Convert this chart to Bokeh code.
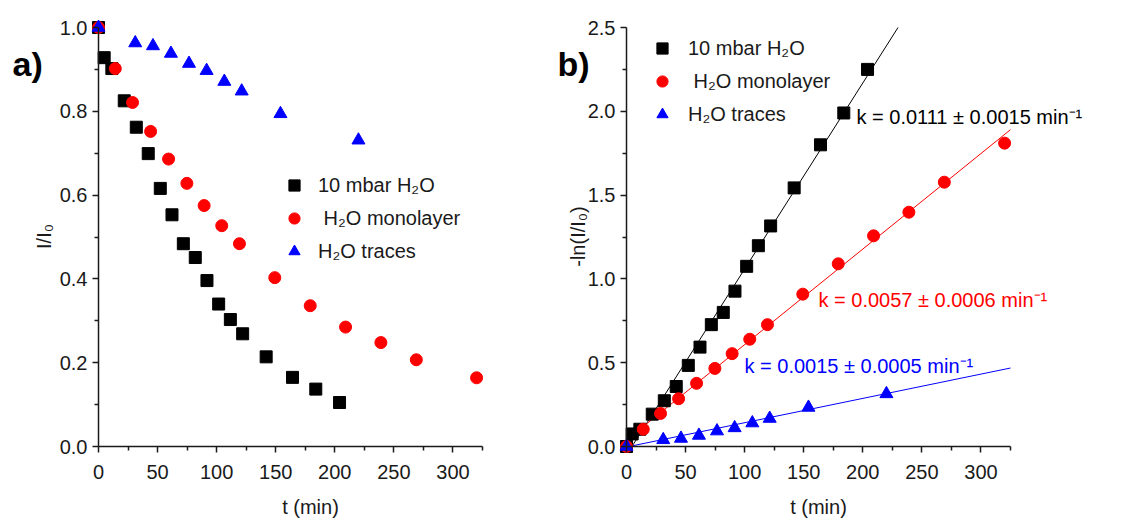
import math
from bokeh.plotting import figure
from bokeh.layouts import row
from bokeh.models import (Range1d, FixedTicker, NumeralTickFormatter, Legend,
                          LegendItem, Label)
from bokeh.core.properties import value
from bokeh.embed import file_html
from bokeh.resources import INLINE

# ---------------- data ----------------
# panel a) : normalised intensity I/I0 versus time (min)
t_10mbar = [0, 4.8, 11.3, 21.8, 32, 42.1, 52.3, 62.2, 71.8, 81.9, 91.8,
            101.7, 111.6, 122, 141.9, 164.2, 183.9, 204]
i_10mbar = [1.0, 0.928, 0.902, 0.825, 0.762, 0.699, 0.616, 0.553, 0.484,
            0.451, 0.396, 0.340, 0.303, 0.269, 0.214, 0.165, 0.137, 0.105]
t_mono = [0, 14.2, 28.8, 44.1, 59.3, 74.8, 89.4, 104.3, 119.3, 149.2,
          179.2, 209.1, 239, 269, 320]
i_mono = [1.0, 0.902, 0.821, 0.752, 0.686, 0.628, 0.575, 0.527, 0.484,
          0.403, 0.336, 0.285, 0.248, 0.207, 0.164]
t_traces = [0, 31.1, 46.1, 61.3, 76.6, 91.5, 106.5, 121.2, 154, 220]
i_traces = [1.0, 0.963, 0.956, 0.938, 0.914, 0.897, 0.871, 0.848, 0.794, 0.731]

# panel b) : -ln(I/I0) versus time (min)
ln_10mbar = [0, 0.075, 0.103, 0.193, 0.273, 0.358, 0.484, 0.593, 0.727,
             0.80, 0.927, 1.075, 1.198, 1.316, 1.543, 1.80, 1.99, 2.25]
ln_mono = [0, 0.103, 0.197, 0.285, 0.377, 0.466, 0.554, 0.640, 0.727,
           0.909, 1.090, 1.257, 1.398, 1.577, 1.810]
ln_traces = [0, 0.040, 0.048, 0.066, 0.092, 0.111, 0.140, 0.167, 0.233, 0.314]

# linear fits (slope, intercept) of panel b)
fit_slope = [0.0111, 0.0057, 0.00145]
fit_intercept = [-0.051, 0.038, -0.003]
k_labels = ["k = 0.0111 \u00b1 0.0015 min\u207b\u00b9",
            "k = 0.0057 \u00b1 0.0006 min\u207b\u00b9",
            "k = 0.0015 \u00b1 0.0005 min\u207b\u00b9"]

series_names = ["10 mbar H\u2082O", " H\u2082O monolayer", "H\u2082O traces"]
x_ticks = [0, 50, 100, 150, 200, 250, 300]
x_minor = [25, 75, 125, 175, 225, 275, 325]
ya_ticks = [0.0, 0.2, 0.4, 0.6, 0.8, 1.0]
ya_minor = [0.1, 0.3, 0.5, 0.7, 0.9]
yb_ticks = [0.0, 0.5, 1.0, 1.5, 2.0, 2.5]
yb_minor = [0.25, 0.75, 1.25, 1.75, 2.25]
X_MAX = 325

# ---------------- layout (page pixels) ----------------
FONT = "Liberation Sans"
AX = "#1a1a1a"
COLORS = ["#000000", "#ff0000", "#0000ff"]
MARKERS = ["square", "circle", "triangle"]
SIZES = [12, 12, 13]
H = 519
FRAME_TOP, FRAME_BOTTOM = 27, 446
SPLIT = 558


class Panel:
    """maps page pixels to data coordinates for one panel"""

    def __init__(self, fig_left, fig_right, axis_left, axis_right, y_max):
        self.fl, self.fr = fig_left, fig_right
        self.al, self.ar = axis_left, axis_right
        self.y_max = y_max
        self.kx = (axis_right - axis_left) / X_MAX
        self.ky = (FRAME_BOTTOM - FRAME_TOP) / y_max

    def x(self, px):
        return (px - self.al) / self.kx

    def y(self, py):
        return (FRAME_BOTTOM - py) / self.ky

    def fig(self, ticks_y, minor_y):
        p = figure(width=self.fr - self.fl, height=H,
                   x_range=Range1d(self.x(self.fl), self.x(self.fr)),
                   y_range=Range1d(self.y(H), self.y(0)),
                   output_backend="svg", toolbar_location=None,
                   min_border=0, min_border_left=0, min_border_right=0,
                   min_border_top=0, min_border_bottom=0)
        p.outline_line_color = None
        p.xgrid.grid_line_color = None
        p.ygrid.grid_line_color = None
        p.xaxis.fixed_location = 0
        p.yaxis.fixed_location = 0
        p.xaxis.bounds = (0, X_MAX)
        p.yaxis.bounds = (0, self.y_max)
        p.xaxis.ticker = FixedTicker(ticks=x_ticks, minor_ticks=x_minor)
        p.yaxis.ticker = FixedTicker(ticks=ticks_y, minor_ticks=minor_y)
        p.yaxis.formatter = NumeralTickFormatter(format="0.0")
        for ax in (p.xaxis[0], p.yaxis[0]):
            ax.axis_line_color = AX
            ax.axis_line_width = 1.5
            ax.major_tick_line_color = AX
            ax.major_tick_line_width = 1.5
            ax.minor_tick_line_color = AX
            ax.minor_tick_line_width = 1.5
            ax.major_tick_out = 6
            ax.major_tick_in = 0
            ax.minor_tick_out = 4
            ax.minor_tick_in = 0
            ax.major_label_text_font = FONT
            ax.major_label_text_font_size = "20px"
            ax.major_label_text_color = AX
        p.xaxis.major_label_standoff = 12
        p.yaxis.major_label_standoff = 5
        return p

    def text(self, p, px, py, txt, color=AX, size="20px", align="left",
             baseline="middle", bold=False, angle=0.0):
        p.add_layout(Label(x=self.x(px), y=self.y(py), text=txt,
                           text_align=align, text_baseline=baseline,
                           text_font=FONT, text_font_size=size,
                           text_font_style="bold" if bold else "normal",
                           text_color=color, angle=angle))


def add_series(p, xs_list, ys_list):
    rs = []
    for xs, ys, c, m, s in zip(xs_list, ys_list, COLORS, MARKERS, SIZES):
        rs.append(p.scatter(xs, ys, marker=m, size=s, fill_color=c, line_color=c))
    return rs


def add_legend(p, rs, box_left, box_bottom_from_bottom, standoff):
    items = [LegendItem(label=value(n), renderers=[r])
             for n, r in zip(series_names, rs)]
    leg = Legend(items=items, location=(box_left, box_bottom_from_bottom),
                 padding=0, spacing=3, margin=0,
                 glyph_width=28, glyph_height=30, label_height=30,
                 label_standoff=standoff, border_line_color=None,
                 background_fill_alpha=0, label_text_font=FONT,
                 label_text_font_size="20px", label_text_color=AX)
    p.add_layout(leg)


# ---------------- panel a ----------------
A = Panel(0, SPLIT, 98, 482, 1.0)
pa = A.fig(ya_ticks, ya_minor)
ra = add_series(pa, [t_10mbar, t_mono, t_traces], [i_10mbar, i_mono, i_traces])
add_legend(pa, ra, 280, H - 266, 10)
A.text(pa, 310, 506, "t (min)", align="center")
A.text(pa, 43, 236, "I/I\u2080", align="center", angle=math.pi / 2)
A.text(pa, 12, 63, "a)", color="black", size="34px", baseline="alphabetic",
       bold=True)

# ---------------- panel b ----------------
B = Panel(SPLIT, 1132, 626, 1010, 2.5)
pb = B.fig(yb_ticks, yb_minor)
for m, b, c in zip(fit_slope, fit_intercept, COLORS):
    t0 = max(0.0, -b / m)
    t1 = min(float(X_MAX), (2.5 - b) / m)
    pb.line([t0, t1], [b + m * t0, b + m * t1], line_color=c, line_width=1)
rb = add_series(pb, [t_10mbar, t_mono, t_traces], [ln_10mbar, ln_mono, ln_traces])
add_legend(pb, rb, 662 - 14 - SPLIT, H - 129, 12)
for txt, px, py, c in zip(k_labels, [856, 818, 744], [116, 299, 365], COLORS):
    B.text(pb, px, py, txt, color=c)
B.text(pb, 818, 506, "t (min)", align="center")
B.text(pb, 577, 236, "-ln(I/I\u2080)", align="center", angle=math.pi / 2)
B.text(pb, 557, 63, "b)", color="black", size="34px", baseline="alphabetic",
       bold=True)

layout = row(pa, pb)
open("out.html", "w").write(file_html(layout, INLINE))
